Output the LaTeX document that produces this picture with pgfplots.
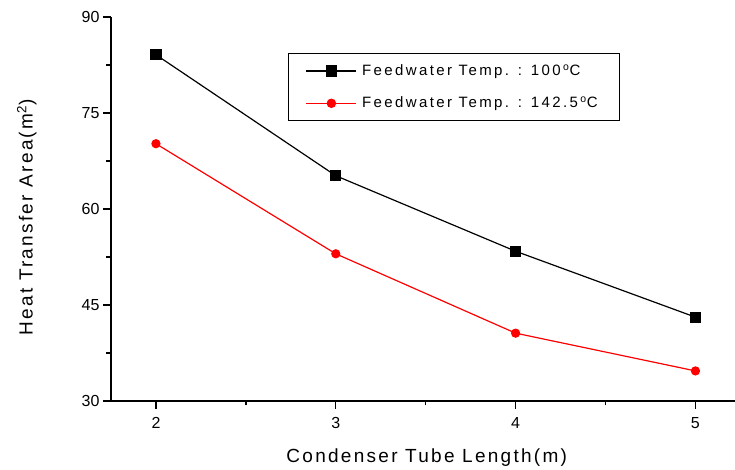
\documentclass[border=0pt]{standalone}
\usepackage{pgfplots}
\pgfplotsset{compat=1.18}
\usepackage{fontspec}
\setmainfont{Liberation Sans}
\usetikzlibrary{calc}
\begin{document}
\begin{tikzpicture}
\begin{axis}[
    name=ax,
    scale only axis,
    width=624pt, height=384pt,
    xmin=1.75, xmax=5.22,
    ymin=30, ymax=90,
    axis lines*=left,
    axis line style={line width=1.3pt},
    xtick={2,3,4,5}, ytick={30,45,60,75,90},
    minor x tick num=1, minor y tick num=1,
    tick align=outside,
    major tick length=8pt, minor tick length=4.5pt,
    tick style={line width=1.3pt, black},
    /pgf/number format/assume math mode=true,
    ticklabel style={font=\fontsize{16}{18}\selectfont},
    xticklabel style={yshift=-5pt},
    xlabel={Condenser Tube Length(m)},
    ylabel={Heat Transfer Area(m\textsuperscript{2})},
    label style={font=\fontsize{19}{22}\selectfont\addfontfeatures{LetterSpace=12}},
    xlabel style={at={(axis description cs:0.506,-0.148)}, anchor=center},
    ylabel style={at={(axis description cs:-0.135,0.478)}, anchor=center},
    legend style={at={(0.2837,0.906)}, anchor=north west, draw=black, line width=1.3pt,
        font=\fontsize{15}{18}\selectfont\addfontfeatures{LetterSpace=16},
        inner xsep=17pt, inner ysep=9pt, row sep=16pt,
        nodes={inner xsep=5pt}},
    legend cell align=left,
    every legend image post/.style={line width=1.4pt},
    legend image code/.code={%
        \draw[mark repeat=2, mark phase=2]
        plot coordinates {(0pt,0pt) (25pt,0pt) (50pt,0pt)};},
]
\addplot[black, line width=1.2pt, mark=square*, mark size=5pt, mark options={solid}]
  coordinates {(2,84.1) (3,65.2) (4,53.4) (5,43.1)};
\addlegendentry{Feedwater Temp. : 100\,\textsuperscript{o}C}
\addplot[red, line width=1.2pt, mark=*, mark size=4pt]
  coordinates {(2,70.2) (3,53.0) (4,40.6) (5,34.7)};
\addlegendentry{Feedwater Temp. : 142.5\,\textsuperscript{o}C\hspace{14pt}}
\end{axis}
\pgfresetboundingbox
\path[use as bounding box] ($(ax.south west)+(-111pt,-69pt)$) rectangle ($(ax.north east)+(0pt,17pt)$);
\end{tikzpicture}
\end{document}
